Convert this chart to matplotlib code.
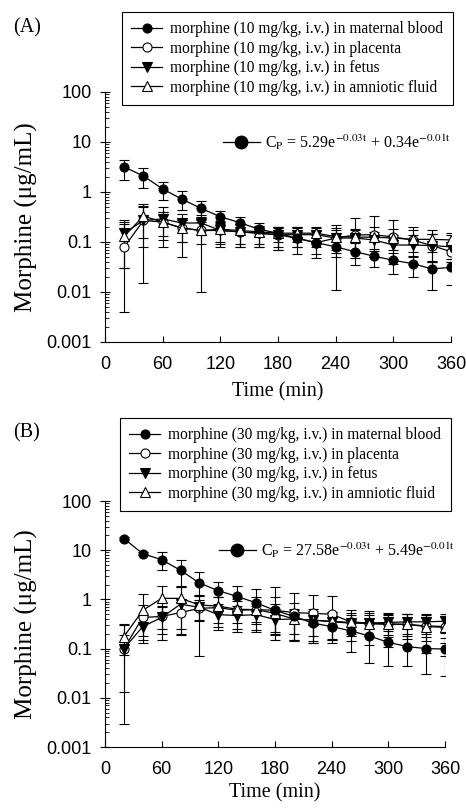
import matplotlib
matplotlib.use("Agg")
import matplotlib.pyplot as plt
from matplotlib.lines import Line2D
from matplotlib.ticker import FixedLocator, LogLocator, NullFormatter
import numpy as np

plt.rcParams['mathtext.fontset'] = 'stix'

time = [20, 40, 60, 80, 100, 120, 140, 160, 180, 200, 220, 240, 260, 280, 300, 320, 340, 360]

# Panel A (10 mg/kg): mean, upper error, lower error
a_maternal = [3.16, 2.09, 1.15, 0.72, 0.47, 0.32, 0.245, 0.18, 0.15, 0.118, 0.097, 0.08, 0.064, 0.052, 0.043, 0.037, 0.029, 0.031]
a_maternal_up = [1.25, 0.9, 0.45, 0.33, 0.2, 0.1, 0.07, 0.06, 0.05, 0.04, 0.04, 0.04, 0.03, 0.02, 0.018, 0.015, 0.012, 0.015]
a_maternal_dn = [1.4, 0.87, 0.45, 0.28, 0.15, 0.09, 0.06, 0.05, 0.05, 0.04, 0.04, 0.069, 0.03, 0.021, 0.02, 0.017, 0.018, 0.017]
a_placenta = [0.079, 0.27, 0.25, 0.19, 0.17, 0.17, 0.16, 0.15, 0.14, 0.118, 0.097, 0.12, 0.138, 0.14, 0.126, 0.11, 0.085, 0.064]
a_placenta_up = [0.15, 0.22, 0.15, 0.09, 0.08, 0.08, 0.07, 0.06, 0.06, 0.08, 0.07, 0.1, 0.16, 0.19, 0.15, 0.09, 0.06, 0.025]
a_placenta_dn = [0.075, 0.15, 0.12, 0.09, 0.08, 0.08, 0.07, 0.06, 0.06, 0.06, 0.05, 0.07, 0.09, 0.09, 0.08, 0.06, 0.045, 0.025]
a_fetus = [0.15, 0.27, 0.29, 0.24, 0.24, 0.17, 0.16, 0.15, 0.14, 0.14, 0.14, 0.12, 0.12, 0.11, 0.087, 0.087, 0.085, 0.08]
a_fetus_up = [0.12, 0.255, 0.21, 0.12, 0.1, 0.07, 0.06, 0.05, 0.05, 0.05, 0.05, 0.05, 0.05, 0.05, 0.05, 0.05, 0.06, 0.06]
a_fetus_dn = [0.12, 0.255, 0.21, 0.19, 0.1, 0.07, 0.08, 0.07, 0.07, 0.06, 0.06, 0.06, 0.06, 0.06, 0.05, 0.05, 0.045, 0.04]
a_amniotic = [0.13, 0.33, 0.25, 0.19, 0.17, 0.18, 0.17, 0.16, 0.15, 0.15, 0.15, 0.128, 0.125, 0.125, 0.12, 0.113, 0.113, 0.11]
a_amniotic_up = [0.12, 0.25, 0.14, 0.09, 0.1, 0.08, 0.06, 0.05, 0.05, 0.05, 0.05, 0.06, 0.06, 0.07, 0.06, 0.06, 0.06, 0.04]
a_amniotic_dn = [0.1, 0.25, 0.14, 0.09, 0.16, 0.1, 0.09, 0.08, 0.08, 0.05, 0.05, 0.06, 0.06, 0.06, 0.05, 0.05, 0.05, 0.04]

# Panel B (30 mg/kg): mean, upper error, lower error
b_maternal = [17.2, 8.5, 6.4, 3.9, 2.15, 1.5, 1.15, 0.85, 0.6, 0.45, 0.33, 0.28, 0.23, 0.18, 0.134, 0.11, 0.1, 0.098]
b_maternal_up = [1.0, 0.6, 2.7, 2.3, 1.4, 0.8, 0.7, 0.75, 0.5, 0.4, 0.2, 0.15, 0.15, 0.13, 0.09, 0.07, 0.07, 0.07]
b_maternal_dn = [1.0, 0.6, 2.4, 2.1, 0.95, 0.7, 0.6, 0.5, 0.4, 0.3, 0.2, 0.15, 0.145, 0.13, 0.09, 0.065, 0.07, 0.07]
b_placenta = [0.1, 0.43, 0.45, 0.54, 0.66, 0.68, 0.6, 0.62, 0.6, 0.54, 0.52, 0.5, 0.35, 0.33, 0.32, 0.31, 0.29, 0.28]
b_placenta_up = [0.2, 0.35, 0.3, 0.35, 0.59, 0.45, 0.4, 0.5, 1.2, 0.8, 0.7, 0.7, 0.25, 0.25, 0.2, 0.2, 0.15, 0.15]
b_placenta_dn = [0.097, 0.25, 0.25, 0.35, 0.59, 0.4, 0.35, 0.4, 0.45, 0.4, 0.38, 0.35, 0.15, 0.15, 0.15, 0.15, 0.15, 0.15]
b_fetus = [0.1, 0.28, 0.43, 0.8, 0.69, 0.49, 0.47, 0.49, 0.39, 0.4, 0.38, 0.35, 0.33, 0.33, 0.34, 0.35, 0.35, 0.36]
b_fetus_up = [0.087, 0.15, 0.28, 1.0, 0.3, 0.25, 0.25, 0.25, 0.2, 0.2, 0.2, 0.2, 0.15, 0.15, 0.15, 0.15, 0.15, 0.15]
b_fetus_dn = [0.087, 0.15, 0.28, 0.6, 0.3, 0.25, 0.25, 0.25, 0.2, 0.2, 0.2, 0.2, 0.15, 0.15, 0.15, 0.15, 0.15, 0.15]
b_amniotic = [0.175, 0.6, 1.05, 1.05, 0.77, 0.73, 0.63, 0.62, 0.52, 0.4, 0.38, 0.36, 0.34, 0.32, 0.31, 0.31, 0.28, 0.27]
b_amniotic_up = [0.14, 0.7, 0.8, 0.8, 0.4, 0.4, 0.3, 0.3, 0.3, 0.25, 0.25, 0.2, 0.2, 0.2, 0.2, 0.2, 0.2, 0.2]
b_amniotic_dn = [0.1, 0.45, 0.8, 0.8, 0.4, 0.4, 0.3, 0.3, 0.3, 0.25, 0.25, 0.2, 0.2, 0.2, 0.2, 0.2, 0.2, 0.2]

tissues = ["maternal blood", "placenta", "fetus", "amniotic fluid"]
eq_a = r'C$_{\mathrm{P}}$ = 5.29e$^{\mathrm{-0.03t}}$ + 0.34e$^{\mathrm{-0.01t}}$'
eq_b = r'C$_{\mathrm{P}}$ = 27.58e$^{\mathrm{-0.03t}}$ + 5.49e$^{\mathrm{-0.01t}}$'

xticks = [0, 60, 120, 180, 240, 300, 360]
yticks = [0.001, 0.01, 0.1, 1, 10, 100]
ytick_labels = ["0.001", "0.01", "0.1", "1", "10", "100"]

W, H = 466, 809
fig = plt.figure(figsize=(W / 100, H / 100), dpi=100)

styles = [
    dict(marker='o', mfc='black', mec='black'),
    dict(marker='o', mfc='white', mec='black'),
    dict(marker='v', mfc='black', mec='black'),
    dict(marker='^', mfc='white', mec='black'),
]

serif = 'Liberation Serif'
sans = 'Liberation Sans'


def fx(px):
    return px / W


def fy(py):
    return 1 - py / H


def panel(rect, series, dose, eq, eq_pos, leg_pos, tag_pos, tag, xlabel_y):
    ax = fig.add_axes(rect)
    ax.set_yscale('log')
    handles = {}
    for i in [1, 2, 3, 0]:
        vals, up, dn = series[i]
        st = styles[i]
        ax.errorbar(time, vals, yerr=[dn, up], fmt='none', ecolor='black', elinewidth=0.8,
                    capsize=3.5, capthick=0.8, zorder=2 + i * 0.1)
        ln, = ax.plot(time, vals, color='black', lw=0.9, marker=st['marker'],
                      markersize=6.5 if st['marker'] == 'o' else 7,
                      markerfacecolor=st['mfc'], markeredgecolor=st['mec'],
                      markeredgewidth=0.8, zorder=(5 if i == 0 else 3 + i * 0.1),
                      label=f"morphine ({dose} mg/kg, i.v.) in {tissues[i]}")
        handles[i] = ln
    handles = [handles[i] for i in range(4)]
    ax.set_xlim(0, 360)
    ax.set_ylim(0.001, 100)
    ax.xaxis.set_major_locator(FixedLocator(xticks))
    ax.yaxis.set_major_locator(FixedLocator(yticks))
    ax.set_yticklabels(ytick_labels)
    ax.yaxis.set_minor_locator(LogLocator(base=10, subs=np.arange(2, 10)))
    ax.yaxis.set_minor_formatter(NullFormatter())
    for s in ['top', 'right']:
        ax.spines[s].set_visible(False)
    for s in ['left', 'bottom']:
        ax.spines[s].set_linewidth(0.8)
    ax.tick_params(axis='y', which='major', direction='inout', length=7, width=0.8,
                   labelsize=13, pad=6)
    ax.tick_params(axis='y', which='minor', direction='in', length=3, width=0.6)
    ax.tick_params(axis='x', which='major', direction='in', length=4, width=0.8,
                   labelsize=13, pad=10)
    for lab in ax.get_xticklabels() + ax.get_yticklabels():
        lab.set_fontfamily(sans)
    leg = fig.legend(handles=handles, loc='upper left', bbox_to_anchor=leg_pos,
                     bbox_transform=fig.transFigure, frameon=True, fancybox=False,
                     edgecolor='black', framealpha=1, borderaxespad=0, labelspacing=0.22,
                     handlelength=2.0, handletextpad=0.5, borderpad=0.6,
                     prop={'family': serif, 'size': 11.2})
    leg.get_frame().set_linewidth(0.8)
    leg.set_zorder(10)
    eh = Line2D([], [], color='black', lw=0.9, marker='o', markersize=9,
                markerfacecolor='black', markeredgecolor='black')
    fig.legend(handles=[eh], labels=[eq], loc='center left', bbox_to_anchor=eq_pos,
               bbox_transform=fig.transFigure, frameon=False, borderaxespad=0,
               borderpad=0, handlelength=2.3, handletextpad=0.3,
               prop={'family': serif, 'size': 11.5})
    fig.text(tag_pos[0], tag_pos[1], tag, family=serif, fontsize=14.5, ha='left', va='center')
    x0 = rect[0] + rect[2] / 2
    fig.text(x0, xlabel_y, 'Time (min)', family=serif, fontsize=14.5, ha='center', va='center')
    fig.text(fx(26), rect[1] + rect[3] / 2, 'Morphine (\u03bcg/mL)', family=serif,
             fontsize=18, rotation=90, ha='center', va='center')
    return ax


ax_a = panel([fx(105), fy(342), fx(451) - fx(105), fy(92) - fy(342)],
             [(a_maternal, a_maternal_up, a_maternal_dn),
              (a_placenta, a_placenta_up, a_placenta_dn),
              (a_fetus, a_fetus_up, a_fetus_dn),
              (a_amniotic, a_amniotic_up, a_amniotic_dn)],
             10, eq_a, (fx(223), fy(142)), (fx(122), fy(12)), (fx(13), fy(28)), '(A)', fy(392))

ax_b = panel([fx(105), fy(747), fx(445) - fx(105), fy(501) - fy(747)],
             [(b_maternal, b_maternal_up, b_maternal_dn),
              (b_placenta, b_placenta_up, b_placenta_dn),
              (b_fetus, b_fetus_up, b_fetus_dn),
              (b_amniotic, b_amniotic_up, b_amniotic_dn)],
             30, eq_b, (fx(219), fy(550)), (fx(120), fy(418)), (fx(13), fy(433)), '(B)', fy(793))

fig.savefig('out.png', dpi=100)
